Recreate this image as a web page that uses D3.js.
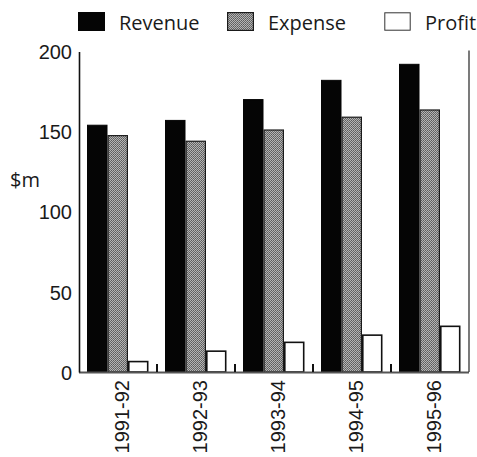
<!DOCTYPE html>
<html>
<head>
<meta charset="utf-8">
<script src="https://cdn.jsdelivr.net/npm/d3@7"></script>
<style>
  html, body { margin: 0; padding: 0; background: #fff; }
  svg { display: block; font-family: "Open Sans", "Noto Sans", sans-serif; }
</style>
</head>
<body>
<svg id="chart" width="477" height="457"></svg>
<script>
// Annual figures, $m
const years = ["1991-92", "1992-93", "1993-94", "1994-95", "1995-96"];
const seriesNames = ["Revenue", "Expense", "Profit"];
const revenue = [154, 157, 170, 182, 192];
const expense = [147.5, 144, 151, 159, 163.5];
const profit = [6.5, 13, 18.5, 23, 28.5];
const yTicks = [0, 50, 100, 150, 200];

const valuesBySeries = { Revenue: revenue, Expense: expense, Profit: profit };

const svg = d3.select("#chart");
const margin = { left: 79, right: 8, top: 51.5, bottom: 85 };
const W = 477, H = 457;

// Dithered grey fill for the expense bars
const defs = svg.append("defs");
const pat = defs.append("pattern")
  .attr("id", "stipple")
  .attr("width", 2).attr("height", 2)
  .attr("patternUnits", "userSpaceOnUse");
pat.append("rect").attr("width", 2).attr("height", 2).attr("fill", "#b4b4b4");
pat.append("rect").attr("width", 1).attr("height", 1).attr("fill", "#5c5c5c");
pat.append("rect").attr("x", 1).attr("y", 1).attr("width", 1).attr("height", 1).attr("fill", "#6a6a6a");

const styles = {
  Revenue: { fill: "#050505", stroke: "#050505", sw: 1 },
  Expense: { fill: "url(#stipple)", stroke: "#1a1a1a", sw: 1.2 },
  Profit:  { fill: "#ffffff", stroke: "#111", sw: 1.6 }
};

const x0 = d3.scaleBand()
  .domain(years)
  .range([margin.left, W - margin.right])
  .paddingInner(0).paddingOuter(0);

const x1 = d3.scaleBand()
  .domain(seriesNames)
  .range([8, x0.bandwidth() - 8.5])
  .padding(0);

const y = d3.scaleLinear()
  .domain([0, 200])
  .range([H - margin.bottom, margin.top]);

// Bars
const groups = svg.append("g").selectAll("g")
  .data(years)
  .join("g")
  .attr("transform", d => `translate(${x0(d)},0)`);

groups.selectAll("rect")
  .data((d, i) => seriesNames.map(s => ({ s, v: valuesBySeries[s][i] })))
  .join("rect")
  .attr("x", d => x1(d.s) + styles[d.s].sw / 2)
  .attr("width", d => x1.bandwidth() - styles[d.s].sw)
  .attr("y", d => y(d.v))
  .attr("height", d => y(0) - y(d.v))
  .attr("fill", d => styles[d.s].fill)
  .attr("stroke", d => styles[d.s].stroke)
  .attr("stroke-width", d => styles[d.s].sw);

// Baseline
svg.append("line")
  .attr("x1", margin.left).attr("x2", W - margin.right)
  .attr("y1", y(0) + 0.5).attr("y2", y(0) + 0.5)
  .attr("stroke", "#555").attr("stroke-width", 2);

// Small ticks between year groups
svg.append("g").selectAll("line")
  .data(years.slice(1))
  .join("line")
  .attr("x1", d => x0(d)).attr("x2", d => x0(d))
  .attr("y1", y(0)).attr("y2", y(0) - 8)
  .attr("stroke", "#111").attr("stroke-width", 2);

// Left axis
const yAxis = d3.axisLeft(y).tickValues(yTicks).tickSize(0).tickPadding(7);
const gy = svg.append("g")
  .attr("transform", `translate(${margin.left},0)`)
  .call(yAxis);
gy.select(".domain").attr("stroke", "#111").attr("stroke-width", 1.6);
gy.selectAll("text")
  .attr("font-size", 20)
  .attr("fill", "#1a1a1a")
  .attr("dy", "0.36em");

// Right frame line
svg.append("line")
  .attr("x1", W - margin.right).attr("x2", W - margin.right)
  .attr("y1", margin.top - 1).attr("y2", y(0))
  .attr("stroke", "#222").attr("stroke-width", 1.2);

// Category labels, rotated
const xAxis = d3.axisBottom(x0).tickSize(0).tickPadding(0);
const gx = svg.append("g")
  .attr("transform", `translate(3.5,${y(0) + 8})`)
  .call(xAxis);
gx.select(".domain").remove();
gx.selectAll("text")
  .attr("font-size", 20)
  .attr("fill", "#1a1a1a")
  .attr("text-anchor", "end")
  .attr("transform", "rotate(-90)")
  .attr("x", 0).attr("y", 0)
  .attr("dy", "0.36em");

// Unit label
svg.append("text")
  .attr("x", 10).attr("y", 180)
  .attr("dy", "0.36em")
  .attr("font-size", 20)
  .attr("fill", "#1a1a1a")
  .text("$m");

// Legend
const legendX = [78, 227, 384];
const legend = svg.append("g").selectAll("g")
  .data(seriesNames)
  .join("g")
  .attr("transform", (d, i) => `translate(${legendX[i]},12)`);
legend.append("rect")
  .attr("x", d => styles[d].sw / 2)
  .attr("y", d => styles[d].sw / 2)
  .attr("width", d => 27 - styles[d].sw)
  .attr("height", d => 19 - styles[d].sw)
  .attr("fill", d => styles[d].fill)
  .attr("stroke", d => d === "Profit" ? "#333" : styles[d].stroke)
  .attr("stroke-width", d => d === "Profit" ? 1 : styles[d].sw);
legend.append("text")
  .attr("x", 41).attr("y", 18)
  .attr("font-size", 20)
  .attr("fill", "#1a1a1a")
  .text(d => d);
</script>
</body>
</html>
